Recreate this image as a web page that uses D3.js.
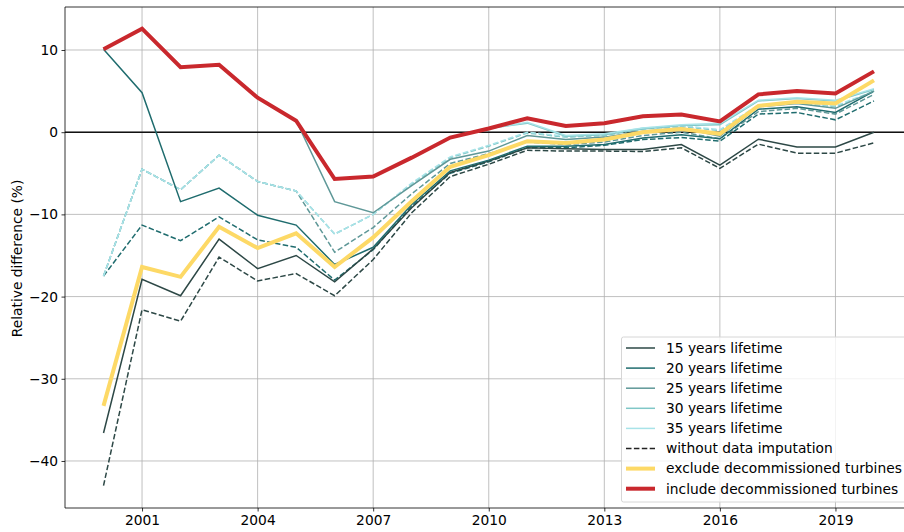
<!DOCTYPE html>
<html><head><meta charset="utf-8">
<script src="https://cdn.jsdelivr.net/npm/d3@7"></script>
<style>body{margin:0;background:#fff}svg{display:block;font-family:"DejaVu Sans",sans-serif}</style>
</head><body>
<svg id="chart" width="904" height="532"></svg>
<script>
const years = d3.range(2000, 2021);
const xTicks = [2001, 2004, 2007, 2010, 2013, 2016, 2019];
const yTicks = [-40, -30, -20, -10, 0, 10];

const lt15 = [-36.6, -17.9, -19.9, -13.0, -16.6, -15.0, -18.2, -14.2, -9.2, -4.9, -3.5, -1.9, -2.0, -2.1, -2.1, -1.5, -4.0, -0.85, -1.8, -1.8, 0.0];
const lt15nd = [-43.0, -21.6, -23.0, -15.2, -18.1, -17.2, -19.9, -15.5, -9.8, -5.4, -3.9, -2.2, -2.3, -2.3, -2.35, -1.9, -4.4, -1.45, -2.55, -2.55, -1.3];
const lt20 = [10.1, 4.8, -8.45, -6.8, -10.1, -11.3, -16.1, -14.0, -8.8, -4.7, -3.4, -1.7, -1.7, -1.5, -0.7, -0.3, -0.8, 2.8, 3.1, 2.4, 5.0];
const lt20nd = [-17.5, -11.3, -13.2, -10.3, -13.1, -14.0, -18.0, -14.3, -9.0, -5.0, -3.6, -1.9, -1.9, -1.6, -0.9, -0.65, -1.1, 2.2, 2.4, 1.5, 3.8];
const lt25 = [10.1, 12.6, 7.9, 8.2, 4.2, 1.4, -8.45, -9.8, -6.5, -3.3, -2.3, -0.4, -0.9, -0.6, 0.1, 0.5, -0.5, 3.1, 3.5, 2.9, 5.0];
const lt25nd = [-17.5, -4.5, -7.0, -2.8, -6.0, -7.15, -14.6, -11.6, -7.5, -3.8, -2.6, -1.2, -1.5, -1.2, -0.4, 0.0, -0.8, 2.5, 2.9, 2.2, 4.6];
const lt30 = [10.1, 12.6, 7.9, 8.2, 4.2, 1.4, -5.7, -5.4, -3.1, -0.65, 0.45, 1.1, -0.5, -0.3, 0.4, 0.8, 0.9, 3.8, 4.1, 3.8, 5.2];
const lt30nd = [-17.5, -4.5, -7.0, -2.8, -6.0, -7.15, -12.4, -10.0, -6.3, -3.1, -1.7, -0.1, -0.6, -0.4, 0.4, 0.7, 0.2, 3.2, 3.6, 3.1, 4.9];
const lt35 = [10.1, 12.6, 7.9, 8.2, 4.2, 1.4, -5.7, -5.4, -3.1, -0.65, 0.45, 1.2, -0.4, -0.2, 0.5, 0.9, 1.1, 3.9, 4.2, 3.9, 5.3];
const lt35nd = [-17.5, -4.5, -7.0, -2.8, -6.0, -7.15, -12.4, -10.0, -6.2, -3.0, -1.6, 0.0, -0.5, -0.3, 0.5, 0.8, 0.3, 3.3, 3.7, 3.2, 5.0];
const excludeDecom = [-33.3, -16.4, -17.6, -11.5, -14.1, -12.3, -16.4, -12.8, -8.4, -4.2, -2.8, -1.1, -1.3, -0.9, 0.0, 0.4, -0.2, 3.2, 3.7, 3.5, 6.3];
const includeDecom = [10.1, 12.6, 7.9, 8.2, 4.2, 1.4, -5.7, -5.4, -3.1, -0.65, 0.45, 1.7, 0.75, 1.1, 1.95, 2.15, 1.3, 4.6, 5.0, 4.7, 7.4];

const lifetimeLabels = ["15 years lifetime", "20 years lifetime", "25 years lifetime", "30 years lifetime", "35 years lifetime"];
const lifetimeColors = ["#2d4846", "#1f6c6e", "#5f9898", "#80c7c7", "#a8e3e8"];
const lifetimeSolid = [lt15, lt20, lt25, lt30, lt35];
const lifetimeDashed = [lt15nd, lt20nd, lt25nd, lt30nd, lt35nd];

const FS = 13.8;
const svg = d3.select("#chart");
const L = 65, R = 912.5, T = 7, B = 508;
const x = d3.scaleLinear().domain([1999, 2021]).range([L, R]);
const y = d3.scaleLinear().domain([-45.72, 15.23]).range([B, T]);

svg.append("defs").append("clipPath").attr("id", "clip")
  .append("rect").attr("x", L).attr("y", T).attr("width", R - L).attr("height", B - T);

// grid
const grid = svg.append("g");
grid.selectAll(".gx").data(xTicks).join("line")
  .attr("x1", d => x(d)).attr("x2", d => x(d)).attr("y1", T).attr("y2", B)
  .attr("stroke", "#b0b0b0").attr("stroke-width", 0.8);
grid.selectAll(".gy").data(yTicks).join("line")
  .attr("x1", L).attr("x2", R).attr("y1", d => y(d)).attr("y2", d => y(d))
  .attr("stroke", "#b0b0b0").attr("stroke-width", 0.8);

// zero line
svg.append("line").attr("x1", L).attr("x2", R).attr("y1", y(0)).attr("y2", y(0))
  .attr("stroke", "#111").attr("stroke-width", 1.5);

const line = d3.line().x((d, i) => x(years[i])).y(d => y(d));
const plot = svg.append("g").attr("clip-path", "url(#clip)");

lifetimeDashed.forEach((s, i) => {
  plot.append("path").datum(s).attr("d", line).attr("fill", "none")
    .attr("stroke", lifetimeColors[i]).attr("stroke-width", 1.5)
    .attr("stroke-dasharray", "5.5,2.4");
});
lifetimeSolid.forEach((s, i) => {
  plot.append("path").datum(s).attr("d", line).attr("fill", "none")
    .attr("stroke", lifetimeColors[i]).attr("stroke-width", 1.5);
});
plot.append("path").datum(excludeDecom).attr("d", line).attr("fill", "none")
  .attr("stroke", "#fdd966").attr("stroke-width", 4).attr("stroke-linejoin", "miter");
plot.append("path").datum(includeDecom).attr("d", line).attr("fill", "none")
  .attr("stroke", "#c9282d").attr("stroke-width", 4).attr("stroke-linejoin", "miter");

// axes
const fmt = d => d < 0 ? "\u2212" + Math.abs(d) : String(d);
const xAxis = svg.append("g").attr("transform", `translate(0,${B})`)
  .call(d3.axisBottom(x).tickValues(xTicks).tickFormat(d3.format("d")).tickSize(3.5).tickPadding(3.5));
const yAxis = svg.append("g").attr("transform", `translate(${L},0)`)
  .call(d3.axisLeft(y).tickValues(yTicks).tickFormat(fmt).tickSize(3.5).tickPadding(3.5));
[xAxis, yAxis].forEach(a => {
  a.select(".domain").remove();
  a.selectAll("text").attr("font-size", FS).attr("font-family", "DejaVu Sans").attr("fill", "#000");
  a.selectAll("line").attr("stroke", "#000").attr("stroke-width", 0.8);
});
// spines
svg.append("line").attr("x1", L).attr("x2", L).attr("y1", T).attr("y2", B).attr("stroke", "#000").attr("stroke-width", 0.8);
svg.append("line").attr("x1", L).attr("x2", R).attr("y1", B).attr("y2", B).attr("stroke", "#000").attr("stroke-width", 0.8);
svg.append("line").attr("x1", L).attr("x2", R).attr("y1", T).attr("y2", T).attr("stroke", "#000").attr("stroke-width", 0.8);

svg.append("text").attr("transform", `translate(22,${(T + B) / 2 + 1}) rotate(-90)`)
  .attr("text-anchor", "middle").attr("font-size", FS).text("Relative difference (%)");

// legend
const legendItems = lifetimeLabels.map((l, i) => ({label: l, color: lifetimeColors[i], w: 1.5, dash: null}))
  .concat([
    {label: "without data imputation", color: "#222", w: 1.5, dash: "5.5,2.4"},
    {label: "exclude decommissioned turbines", color: "#fdd966", w: 4, dash: null},
    {label: "include decommissioned turbines", color: "#c9282d", w: 4, dash: null}
  ]);
const lg = svg.append("g");
lg.append("rect").attr("x", 621.5).attr("y", 337).attr("width", 300).attr("height", 165)
  .attr("rx", 2).attr("fill", "#fff").attr("fill-opacity", 0.8).attr("stroke", "#d6d6d6").attr("stroke-width", 1);
legendItems.forEach((it, i) => {
  const yy = 348 + i * 20.1;
  lg.append("line").attr("x1", 626).attr("x2", 655).attr("y1", yy).attr("y2", yy)
    .attr("stroke", it.color).attr("stroke-width", it.w).attr("stroke-dasharray", it.dash);
  lg.append("text").attr("x", 666).attr("y", yy).attr("dy", "0.35em")
    .attr("font-size", FS).text(it.label);
});
</script>
</body></html>
